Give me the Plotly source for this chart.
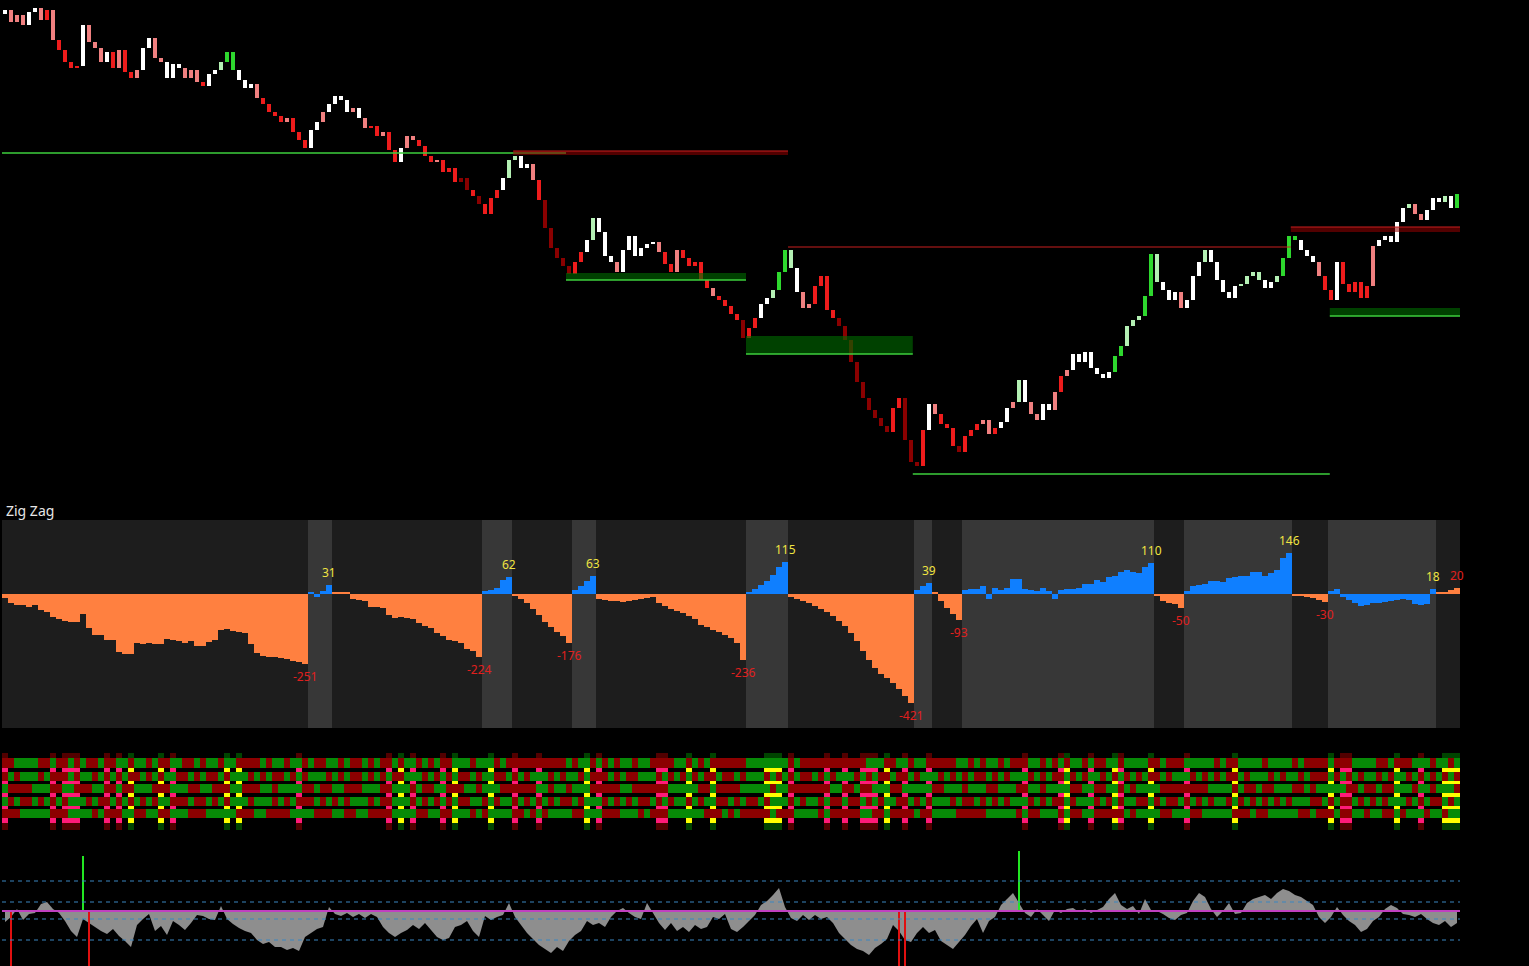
import plotly.graph_objects as go

# ======================= DATA =======================
# price panel (closes, one per bar; open = previous close)
first_open = 466
close = [
    470, 458, 465, 455, 468, 472, 460, 470, 440, 430,
    418, 412, 414, 455, 438, 432, 418, 428, 412, 430,
    408, 402, 410, 432, 442, 422, 418, 402, 416, 412,
    402, 410, 398, 394, 406, 410, 418, 428, 410, 400,
    392, 396, 382, 376, 368, 364, 358, 362, 348, 340,
    332, 350, 358, 368, 376, 384, 380, 368, 372, 362,
    352, 354, 344, 348, 330, 318, 332, 344, 340, 334,
    324, 318, 320, 308, 312, 298, 302, 290, 284, 276,
    266, 282, 290, 302, 320, 324, 312, 316, 300, 280,
    252, 232, 222, 214, 206, 218, 228, 240, 262, 248,
    224, 218, 208, 230, 244, 224, 232, 236, 238, 228,
    216, 208, 230, 222, 214, 218, 200, 192, 184, 180,
    174, 166, 160, 142, 152, 162, 176, 182, 190, 208,
    230, 212, 188, 172, 176, 194, 204, 170, 162, 154,
    140, 118, 98, 82, 70, 62, 54, 48, 72, 82,
    40, 18, 14, 50, 76, 66, 56, 52, 34, 28,
    44, 50, 56, 60, 46, 52, 58, 72, 78, 100,
    78, 66, 60, 76, 70, 88, 104, 110, 126, 118,
    128, 112, 106, 102, 108, 124, 134, 154, 160, 164,
    184, 226, 198, 190, 180, 188, 172, 180, 204, 218,
    230, 218, 200, 188, 182, 194, 196, 204, 208, 200,
    192, 198, 204, 222, 244, 240, 230, 224, 218, 204,
    190, 180, 218, 196, 188, 198, 182, 194, 234, 240,
    244, 238, 258, 272, 276, 266, 260, 270, 282, 278,
    284, 272, 286,
]
# candle colour class per bar: w white, p pink, r red, d dark red, l pale green, g green
candle_color = """
wpppwwprpr rrrwpppwrp rrpwwppwww ppprwwlggw wwprrrrprr
rwwpwwwwpw prrprrwppr rrprrrddrd rrrwllwwpr dddddrrwlw
wwpwwwwwwp rrprrrrrpr rrrdrrwwlg glwpprrrrd ddddddddrr
dddrwprrrd rrrpprwwpl wppwwprpww wwwwwgglll gglwwwpwww
lwwwwwllll wwlgggwwwp rrwrrrrrpw wwwwlppwww lwg
"""
# support (green) levels: bar start / end, line price, zone far edge
sup_start = [-0.5, 93.5, 123.5, 151.3, 220.8]
sup_end = [93.5, 123.5, 151.3, 220.8, 242.5]
sup_line = [327, 200, 126, 6, 164]
sup_zone = [327, 207, 144, 6, 172]
# resistance (red) levels
res_start = [84.7, 130.5, 214.3]
res_end = [130.5, 214.3, 242.5]
res_line = [329, 233, 253]
res_zone = [325, 233, 248]

# Zig Zag panel
zz_value = [
    -14, -32, -39, -39, -46, -39, -57, -64, -82, -89,
    -96, -100, -100, -71, -121, -146, -146, -164, -164, -207,
    -214, -214, -175, -179, -175, -179, -179, -161, -164, -168,
    -175, -168, -186, -186, -171, -164, -129, -125, -132, -136,
    -139, -179, -211, -221, -225, -225, -228, -232, -240, -244,
    -251,
    6, -10, 10, 31,
    8, 6, 4, -18, -21, -25, -46, -46, -50, -75,
    -86, -82, -86, -89, -104, -114, -121, -139, -150, -164,
    -168, -175, -196, -204, -224,
    10, 14, 22, 50, 62,
    -8, -18, -32, -54, -75, -100, -118, -135, -150, -176,
    14, 28, 46, 63,
    -18, -22, -25, -25, -28, -25, -22, -18, -14, -10,
    -32, -43, -54, -61, -68, -79, -89, -111, -118, -129,
    -136, -146, -157, -175, -236,
    8, 18, 32, 46, 68, 96, 115,
    -10, -18, -25, -32, -43, -54, -64, -79, -96, -114,
    -139, -168, -204, -236, -264, -285, -300, -318, -340, -365,
    -390,
    14, 28, 39,
    4, -25, -50, -71, -93,
    14, 18, 18, 30, -18, 22, 16, 22, 54, 52,
    19, 14, 12, 22, 12, -18, 16, 18, 19, 22,
    34, 36, 50, 44, 62, 66, 80, 86, 80, 76,
    96, 110,
    -8, -25, -32, -36, -50,
    10, 28, 32, 36, 46, 48, 44, 58, 60, 64,
    66, 78, 80, 66, 74, 86, 130, 146,
    -4, -7, -10, -14, -20, -30,
    12, 18, -10, -21, -32, -43, -39, -32, -32, -28,
    -25, -21, -18, -21, -36, -39, -36, 18,
    4, 8, 14, 20,
]
zz_leg_end = [50, 54, 79, 84, 94, 98, 123, 130, 151, 154, 159, 191, 196, 214, 220, 238, 242]
zz_leg_up = [0, 1, 0, 1, 0, 1, 0, 1, 0, 1, 0, 1, 0, 1, 0, 1, 0]
zz_leg_label = [-251, 31, -224, 62, -176, 63, -236, 115, -421, 39, -93, 110, -50, 146, -30, 18, 20]

# colour-grid panel: five rows of g (green) / r (red) per bar
heat_row1 = """
rrggggrrgr rgrgrrgrrg grggrgrrgg rrgrggrggr rrrgrggrgg rgrrggrgrr
grgrrgrggr grgrrgggrg ggrgrrrrrr rrrrgrggrg rgrggrggrr rrggrgrgrr
rrrrgggggg grgrrrrrrr rrrrgggrrg grggrrrrrg grgrggrgrr rggrgrgrgg
rgrrggrggg grrgrrrggg ggrgrrgggg rggggrgrrr rgrrrggggr rgrrrgggrg grg
"""
heat_row2 = """
rgrgggrgrr rgrggrgrgr grrgrgrggr rgrgrrgrgg grgrgrrgrg rgggrgrgrr
grgrgrrggg rgrgrgrrgr ggrrgrgrgg grgrggrgrr rgrgrrgggr grgrgrgrrg
rrgrgggrgr grgrrgrgrg ggrgrgrrgr rgrgggrgrg rgrrgrgrgg grgrgrrgrg
rggrgrgrgr grrgrgggrg rgrgrrgrgg grgrggrgrr rgrgrgrggr grggrgrgrg rgr
"""
heat_row3 = """
grrrrgggrr ggrrrggrrg rrgggrrrgg grrggrrrgg rrrggrgggg rrgrrggrrr
gggrrgggrg rrggrrrggr gggrrrrrrg grggrgggrr rrrggrrrrr rgggggrrgr
rrrgggggrg grrrrrrrgg rrgrrgggrr gggggrrggg rgggrrgggr rggrggggrr
ggrrggrgrg gggrrrrrrr rggggrgrrg rrgggrrgrg ggggrrgrrg rrgggrggrg ggr
"""
heat_row4 = """
grgrrgrgrg rgggrgrrgr grgrgrggrr rgrrgrgrgg grgggrgrgr rrgrgrgrgg
grgrrgggrg rgrgrgrrgg rgrggrgrgr grgrrgrggg rgrgrgrrgr grggrgrggr
rgrgrrgrgg grgrggrgrr grrgrgrggr rgrgrgggrg rrgrgrgrgg grgrgrrgrg
ggrgrgrggr rgrgrrgrgr grggrgrgrg rgrgrgggrr grgrrgrgrg rgggrgrgrr grg
"""
heat_row5 = """
rrrgggggrr rggggrgrrr ggrrggrrgg grrrgggggr rrggrrrrgg ggrrrggrrg
grrrrggggr rggrrgggrg rggggrrgrg rggggrrggg rrrgggrgrr rggggggrrr
grgrrrrrgr rrggggrgrr rrrggrrgrr rrgrrggggr rrrrgggggr grrgggrgrr
ggrrrrrgrg gggrrgggrr gggggrrrgr rgggggrrgr rrgrrggrgg rrgrgggrgg rgg
"""
heat_bear = [0, 8, 10, 11, 12, 17, 19, 28, 49, 64, 68, 73, 85, 89, 99, 109, 110,
             131, 137, 140, 143, 144, 145, 150, 154, 170, 176, 181, 186, 197,
             223, 224, 236]
heat_bull = [21, 26, 37, 39, 66, 75, 81, 97, 114, 118, 127, 128, 129, 147, 177,
             185, 191, 205, 221, 232, 240, 241, 242]

# oscillator panel
osc_value = [
    -11, -6, 2, -9, -3, -2, 7, 9, 2, -2,
    -10, -20, -26, -8, -12, -16, -20, -23, -18, -25,
    -30, -36, -14, -8, -3, -20, -15, -24, -10, -14,
    -19, -12, -4, -5, -8, -9, 5, -8, -13, -17,
    -20, -22, -29, -33, -31, -36, -36, -39, -37, -40,
    -26, -22, -18, -16, 4, -3, -5, -2, -6, -3,
    -7, -3, -6, -16, -22, -26, -22, -19, -14, -18,
    -12, -19, -26, -29, -27, -16, -14, -10, -20, -26,
    -5, -9, -6, -4, 8, -6, -14, -22, -28, -34,
    -38, -42, -36, -40, -30, -24, -20, -10, -14, -12,
    -16, -6, 0, 3, -2, -6, -8, 8, -2, -12,
    -19, -12, -20, -16, -21, -14, -18, -16, -6, -8,
    -3, -18, -21, -16, -10, -4, 6, 10, 16, 23,
    4, -7, -10, -4, -9, -4, -8, -6, -12, -22,
    -28, -34, -38, -40, -44, -37, -33, -28, -14, -20,
    -29, -31, -22, -16, -22, -19, -30, -34, -38, -31,
    -24, -15, -8, -22, -10, -6, 6, 12, 18, 8,
    -2, -6, 2, -4, -10, 1, -2, 2, 3, -1,
    2, -2, 1, 4, 12, 18, 6, 2, 5, -3,
    12, 1, 0, -3, -7, -9, -4, -2, 10, 18,
    14, 2, -6, 0, 8, -3, -2, 8, 12, 14,
    16, 12, 18, 22, 20, 16, 14, 10, 6, -6,
    -12, -6, 4, -4, -10, -14, -21, -18, -10, -6,
    2, 6, 3, -3, -4, -6, -3, -8, -12, -14,
    -10, -16, -12,
]
osc_levels = [30, 9, -8, -29]
osc_buy_bar = [13, 169]
osc_buy_height = [55, 60]
osc_sell_bar = [1, 14, 149, 150]
osc_sell_depth = [-60, -60, -60, -60]

# ======================= FIGURE =======================
n = len(close)
idx = list(range(n))
fig = go.Figure()

# ---- price candles (bodies) ----
opens = [first_open] + close[:-1]
cc = "".join(candle_color.split())
candle_palette = {"w": "#ffffff", "p": "#f08080", "r": "#ee1c1c", "d": "#8a0000",
                  "l": "#b4f0b4", "g": "#2ed82e"}
fig.add_trace(go.Bar(
    x=idx, y=[c - o for c, o in zip(close, opens)], base=opens, width=0.8,
    marker=dict(color=[candle_palette[k] for k in cc], line=dict(width=0)),
    xaxis="x", yaxis="y", hoverinfo="skip"))

shapes = []
for s, e, ln, z in zip(sup_start, sup_end, sup_line, sup_zone):
    if z != ln:
        shapes.append(dict(type="rect", xref="x", yref="y", x0=s, x1=e, y0=min(ln, z), y1=max(ln, z),
                           fillcolor="rgba(0,105,0,0.62)", line=dict(width=0), layer="above"))
    shapes.append(dict(type="line", xref="x", yref="y", x0=s, x1=e, y0=ln, y1=ln,
                       line=dict(color="#3ccf3c", width=1.5), layer="above"))
for s, e, ln, z in zip(res_start, res_end, res_line, res_zone):
    if z != ln:
        shapes.append(dict(type="rect", xref="x", yref="y", x0=s, x1=e, y0=min(ln, z), y1=max(ln, z),
                           fillcolor="rgba(150,0,0,0.55)", line=dict(width=0), layer="above"))
    shapes.append(dict(type="line", xref="x", yref="y", x0=s, x1=e, y0=ln, y1=ln,
                       line=dict(color="#c81e1e", width=1.2), layer="above"))

# ---- zig zag ----
ORANGE, BLUE = "#ff8040", "#0f7fff"
zz_colors = []
annotations = []
start = 0
for leg, (end, up, lab) in enumerate(zip(zz_leg_end, zz_leg_up, zz_leg_label)):
    zz_colors += [BLUE if up else ORANGE] * (end - start + 1)
    shapes.append(dict(type="rect", xref="x", yref="y2 domain", x0=start - 0.5, x1=end + 0.5,
                       y0=0, y1=1, fillcolor="#373737" if up else "#1d1d1d",
                       line=dict(width=0), layer="below"))
    annotations.append(dict(x=end, y=zz_value[end], xref="x", yref="y2", text=str(lab),
                            showarrow=False, yanchor="bottom" if lab > 0 else "top",
                            yshift=2 if lab > 0 else -2,
                            font=dict(family="Noto Sans", size=12,
                                      color="#f0e442" if up else "#e0201e")))
    start = end + 1
fig.add_trace(go.Bar(x=idx, y=zz_value, width=1.0,
                     marker=dict(color=zz_colors, line=dict(width=0)),
                     xaxis="x", yaxis="y2", hoverinfo="skip"))
annotations.append(dict(x=4 / 1529, y=1 - 510 / 966, xref="paper", yref="paper", text="Zig Zag",
                        showarrow=False, xanchor="left", yanchor="middle",
                        font=dict(family="Noto Sans", size=14, color="#e6e6e6")))

# ---- colour grid ----
rows = ["".join(r.split()) for r in (heat_row5, heat_row4, heat_row3, heat_row2, heat_row1)]
bear, bull = set(heat_bear), set(heat_bull)
def border_row():
    return [5 if i in bear else (6 if i in bull else 0) for i in idx]
def gap_row():
    return [3 if i in bear else (4 if i in bull else 0) for i in idx]
def main_row(s):
    return [1 if ch == "g" else 2 for ch in s]
Z = [border_row(), gap_row()]
for k, r in enumerate(rows):
    Z.append(main_row(r))
    Z.append(gap_row() if k < 4 else border_row())
HEAT_EDGES = [0, 7, 12, 21, 24, 33, 37, 46, 49, 58, 62, 72, 77]
heat_colors = ["#000000", "#078a07", "#8c0000", "#ff1a78", "#ffff00", "#520000", "#004400"]
cs = []
for k, c in enumerate(heat_colors):
    cs.append([k / 7, c])
    cs.append([(k + 1) / 7, c])
fig.add_trace(go.Heatmap(z=Z, x=idx, y=HEAT_EDGES, zmin=-0.5, zmax=6.5, colorscale=cs,
                         showscale=False, xaxis="x", yaxis="y3", hoverinfo="skip"))

# ---- oscillator ----
fig.add_trace(go.Scatter(x=idx, y=osc_value, mode="lines", fill="tozeroy",
                         fillcolor="#8e8e8e", line=dict(width=0, color="#8e8e8e"),
                         xaxis="x", yaxis="y4", hoverinfo="skip"))
for lv in osc_levels:
    shapes.append(dict(type="line", xref="x domain", yref="y4", x0=0, x1=1, y0=lv, y1=lv,
                       line=dict(color="#3a86c0", width=1, dash="4px,4px"), layer="above"))
shapes.append(dict(type="line", xref="x domain", yref="y4", x0=0, x1=1, y0=0, y1=0,
                   line=dict(color="#c040c0", width=2), layer="above"))
bx, by = [], []
for b, h in zip(osc_buy_bar, osc_buy_height):
    bx += [b, b, None]
    by += [0, h, None]
sx, sy = [], []
for b, h in zip(osc_sell_bar, osc_sell_depth):
    sx += [b, b, None]
    sy += [0, h, None]
fig.add_trace(go.Scatter(x=bx, y=by, mode="lines", line=dict(color="#22e622", width=2),
                         xaxis="x", yaxis="y4", hoverinfo="skip"))
fig.add_trace(go.Scatter(x=sx, y=sy, mode="lines", line=dict(color="#e01010", width=2),
                         xaxis="x", yaxis="y4", hoverinfo="skip"))

H = 966
fig.update_layout(
    width=1529, height=966, margin=dict(l=0, r=0, t=0, b=0),
    paper_bgcolor="#000000", plot_bgcolor="#000000", showlegend=False,
    barmode="overlay", bargap=0,
    xaxis=dict(domain=[2 / 1529, 1460 / 1529], range=[-0.5, n - 0.5], visible=False),
    yaxis=dict(domain=[1 - 490 / H, 1], range=[-10, 480], visible=False),
    yaxis2=dict(domain=[1 - 728 / H, 1 - 520 / H], range=[-478.6, 264.3], visible=False),
    yaxis3=dict(domain=[1 - 830 / H, 1 - 753 / H], range=[0, 77], visible=False),
    yaxis4=dict(domain=[0, 1 - 848 / H], range=[-55, 63], visible=False),
    shapes=shapes, annotations=annotations,
)
fig.write_html(
    "out.html",
    config={"displayModeBar": False},
    post_script="document.body.style.margin='0';document.body.style.background='#000';",
)
